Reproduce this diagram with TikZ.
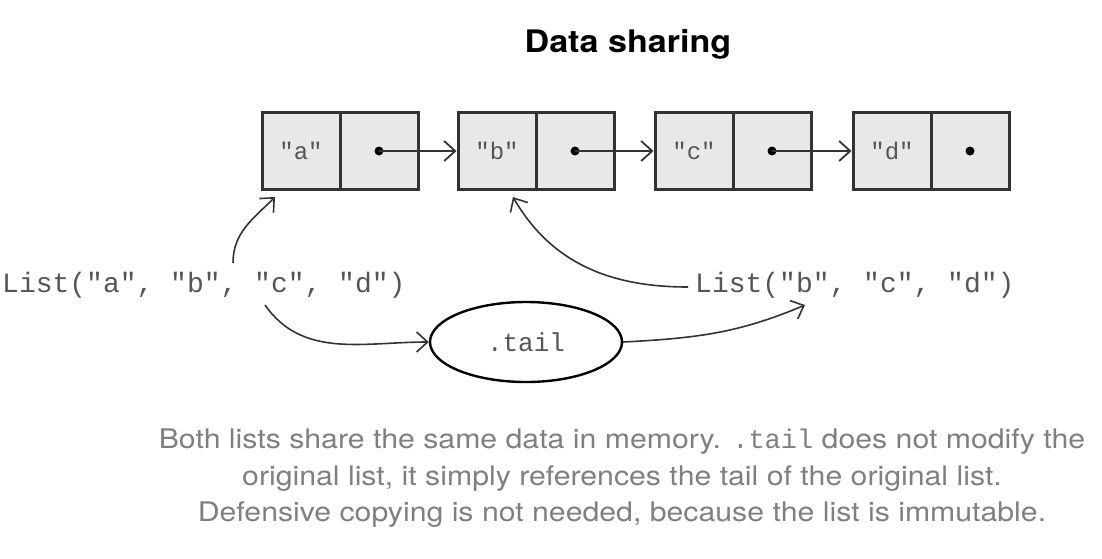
\documentclass[tikz,border=0pt]{standalone}
\usepackage{fontspec}
\setmainfont{TeX Gyre Heros}
\setmonofont{Liberation Mono}
\newfontfamily\capfont[FakeStretch=1.12]{TeX Gyre Heros}
\newfontfamily\titlefont[FakeStretch=1.1]{TeX Gyre Heros}
\usetikzlibrary{arrows.meta,shapes.geometric}
\definecolor{cellfill}{HTML}{E8E8E8}
\definecolor{celldraw}{HTML}{333333}
\definecolor{monotext}{HTML}{555555}
\definecolor{captext}{HTML}{7F7F7F}
\begin{document}
\begin{tikzpicture}[x=1pt,y=-1pt,
  cell/.style={draw=celldraw,fill=cellfill,line width=3pt,minimum width=78pt,minimum height=77pt,inner sep=0pt,
    font=\ttfamily\fontsize{24}{24}\selectfont,text=monotext},
  dotmark/.style={circle,fill=black,inner sep=0pt,minimum size=9pt},
  link/.style={line width=1.8pt,draw=celldraw,-{Straight Barb[length=11pt,width=20pt,line width=1.8pt]}},
  curvy/.style={line width=1.6pt,draw=celldraw,-{Straight Barb[length=11pt,width=20pt,line width=1.6pt]}},
  code/.style={font=\ttfamily\fontsize{28}{28}\selectfont,text=monotext,inner sep=0pt},
  capline/.style={text=captext,font=\capfont\fontsize{27}{27}\selectfont,inner sep=0pt,anchor=base}]
\useasboundingbox (0,0) rectangle (1102,558);
\node[font=\titlefont\bfseries\fontsize{31}{31}\selectfont,text=black,inner sep=0pt,anchor=base] (title) at (628,52) {Data sharing};
% cells
\foreach \n/\L/\t in {a/262/"a",b/458/"b",c/655/"c",d/853/"d"}{
  \node[cell] (val-\n) at (\L+39,151) {\t};
  \node[cell] (ptr-\n) at (\L+117,151) {};
  \node[dotmark] (dot-\n) at (ptr-\n.center) {};
}
\draw[link] (dot-a.center) -- (val-b.west);
\draw[link] (dot-b.center) -- (val-c.west);
\draw[link] (dot-c.center) -- (val-d.west);
% code labels
\node[code,anchor=west] (full) at (2,285) {List("a", "b", "c", "d")};
\node[code,anchor=west] (tailed) at (695,285) {List("b", "c", "d")};
\node[draw=black,line width=2.4pt,ellipse,minimum width=192pt,minimum height=80pt,inner sep=0pt,
  font=\ttfamily\fontsize{26}{26}\selectfont,text=monotext] (op) at (526,342) {.tail};
\coordinate (s1) at (233,263);
\coordinate (e1) at (275,197);
\coordinate (s2) at (265,305);
\coordinate (e3) at (805,305);
\coordinate (s4) at (688,287);
\coordinate (e4) at (513,197);
\draw[curvy] (s1) to[out=90,in=225] (e1);
\draw[curvy] (s2) to[out=-55,in=180] (op.west);
\draw[curvy] (op.east) to[out=3,in=203] (e3);
\draw[curvy] (s4) to[out=180,in=-60] (e4);
% caption
\node[capline] (cap1) at (622,448) {Both lists share the same data in memory. {\ttfamily .tail} does not modify the};
\node[capline] (cap2) at (622,485) {original list, it simply references the tail of the original list.};
\node[capline] (cap3) at (622,521) {Defensive copying is not needed, because the list is immutable.};
\end{tikzpicture}
\end{document}
